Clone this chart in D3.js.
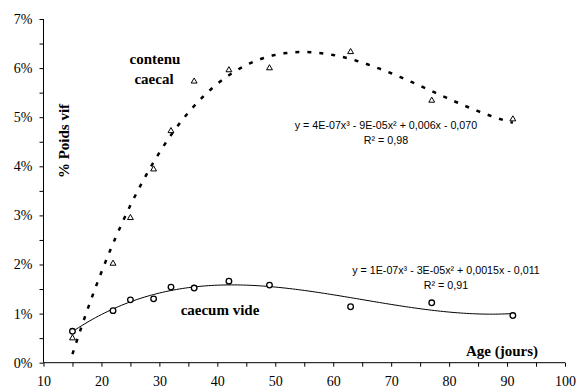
<!DOCTYPE html>
<html>
<head>
<meta charset="utf-8">
<script src="https://cdn.jsdelivr.net/npm/d3@7"></script>
<style>
body { margin: 0; background: #fff; }
</style>
</head>
<body>
<div id="chart"></div>
<script>
// values (% of live weight)
const ages = [15, 22, 25, 29, 32, 36, 42, 49, 63, 77, 91];
const contenuCaecal = [0.50, 2.02, 2.95, 3.94, 4.72, 5.73, 5.96, 6.00, 6.33, 5.34, 4.96];
const caecumVide = [0.64, 1.06, 1.28, 1.30, 1.54, 1.52, 1.66, 1.58, 1.14, 1.22, 0.96];
const xTicks = d3.range(10, 101, 5);
const yTicks = d3.range(0, 7.01, 0.5);
const eqContenu = ['y = 4E-07x³ - 9E-05x² + 0,006x - 0,070', 'R² = 0,98'];
const eqVide = ['y = 1E-07x³ - 3E-05x² + 0,0015x - 0,011', 'R² = 0,91'];

const SERIF = "'Liberation Serif', 'Times New Roman', serif";
const SANS = "'Liberation Sans', Arial, sans-serif";
const W = 576, H = 392;

const svg = d3.select('#chart')
    .append('svg')
        .attr('width', W)
        .attr('height', H);

const x = d3.scaleLinear().domain([10, 100]).range([43.5, 565]);
const y = d3.scaleLinear().domain([0, 7]).range([362.7, 19]);

// cubic least-squares fit, like the spreadsheet trendline
function polyfit(xs, ys, deg) {
    const n = deg + 1;
    const A = [];
    for (let i = 0; i < n; i++) {
        A.push(new Array(n + 1).fill(0));
        for (let j = 0; j < n; j++)
            A[i][j] = d3.sum(xs, v => Math.pow(v, i + j));
        A[i][n] = d3.sum(xs, (v, k) => Math.pow(v, i) * ys[k]);
    }
    for (let c = 0; c < n; c++) {
        let p = c;
        for (let r = c + 1; r < n; r++) if (Math.abs(A[r][c]) > Math.abs(A[p][c])) p = r;
        [A[c], A[p]] = [A[p], A[c]];
        for (let r = 0; r < n; r++) {
            if (r === c) continue;
            const f = A[r][c] / A[c][c];
            for (let k = c; k <= n; k++) A[r][k] -= f * A[c][k];
        }
    }
    const coef = A.map((row, i) => row[n] / row[i]);
    return t => coef.reduce((s, c, i) => s + c * Math.pow(t, i), 0);
}

const fitContenu = polyfit(ages, contenuCaecal, 3);
const fitVide = polyfit(ages, caecumVide, 3);
const xs = d3.range(ages[0], ages[ages.length - 1] + 0.01, 0.5);

const line = d3.line()
    .x(d => x(d[0]))
    .y(d => y(d[1]));

// axes
const xAxis = svg.append('g')
    .attr('transform', `translate(0,${y(0)})`)
    .call(d3.axisBottom(x).tickValues(xTicks).tickSize(4).tickFormat(d => d % 10 === 0 ? d : ''));
xAxis.select('.domain').attr('d', `M${x(10)},0H${x(100)}`);
xAxis.selectAll('text')
    .attr('y', 13)
    .style('font-family', SERIF)
    .style('font-size', '14px')
    .attr('fill', '#000');

const yAxis = svg.append('g')
    .attr('transform', `translate(${x(10)},0)`)
    .call(d3.axisLeft(y).tickValues(yTicks).tickSize(4)
        .tickFormat(d => Number.isInteger(d) ? d + '%' : ''));
yAxis.select('.domain').attr('d', `M0,${y(0)}V${y(7)}`);
yAxis.selectAll('text')
    .attr('x', -11)
    .style('font-family', SERIF)
    .style('font-size', '14px')
    .attr('fill', '#000');

svg.selectAll('.domain, .tick line').attr('stroke', '#000').attr('stroke-width', 1);

// trend lines
svg.append('path')
    .datum(xs.map(t => [t, fitContenu(t)]))
    .attr('d', line)
    .attr('fill', 'none')
    .attr('stroke', '#000')
    .attr('stroke-width', 2.5)
    .attr('stroke-dasharray', '4,8');

svg.append('path')
    .datum(xs.map(t => [t, fitVide(t)]))
    .attr('d', line)
    .attr('fill', 'none')
    .attr('stroke', '#000')
    .attr('stroke-width', 1);

// markers
svg.selectAll('.tri')
    .data(ages)
    .enter()
    .append('path')
        .attr('class', 'tri')
        .attr('transform', (d, i) => `translate(${x(d)},${y(contenuCaecal[i])})`)
        .attr('d', d3.symbol(d3.symbolTriangle, 15))
        .attr('fill', '#fff')
        .attr('stroke', '#000')
        .attr('stroke-width', 1);

svg.selectAll('.circ')
    .data(ages)
    .enter()
    .append('circle')
        .attr('class', 'circ')
        .attr('cx', d => x(d))
        .attr('cy', (d, i) => y(caecumVide[i]))
        .attr('r', 2.8)
        .attr('fill', '#fff')
        .attr('stroke', '#000')
        .attr('stroke-width', 1.3);

// labels
const serifBold = (sel) => sel
    .style('font-family', SERIF)
    .style('font-weight', 'bold')
    .style('font-size', '15px')
    .attr('text-anchor', 'middle')
    .attr('dominant-baseline', 'central');

svg.append('text').call(serifBold).attr('x', 155).attr('y', 59).text('contenu');
svg.append('text').call(serifBold).attr('x', 154).attr('y', 79).text('caecal');
svg.append('text').call(serifBold).attr('x', 220).attr('y', 310).text('caecum vide');
svg.append('text').call(serifBold).attr('x', 502).attr('y', 351).text('Age (jours)');
svg.append('text').call(serifBold)
    .attr('transform', 'translate(64,141) rotate(-90)')
    .text('% Poids vif');

const eq = (lines, cx, cy) => {
    lines.forEach((t, i) => {
        svg.append('text')
            .attr('x', cx)
            .attr('y', cy + i * 15)
            .style('font-family', SANS)
            .style('font-size', '10.7px')
            .attr('text-anchor', 'middle')
            .attr('dominant-baseline', 'central')
            .text(t);
    });
};
eq(eqContenu, 386, 125);
eq(eqVide, 446, 270);
</script>
</body>
</html>
